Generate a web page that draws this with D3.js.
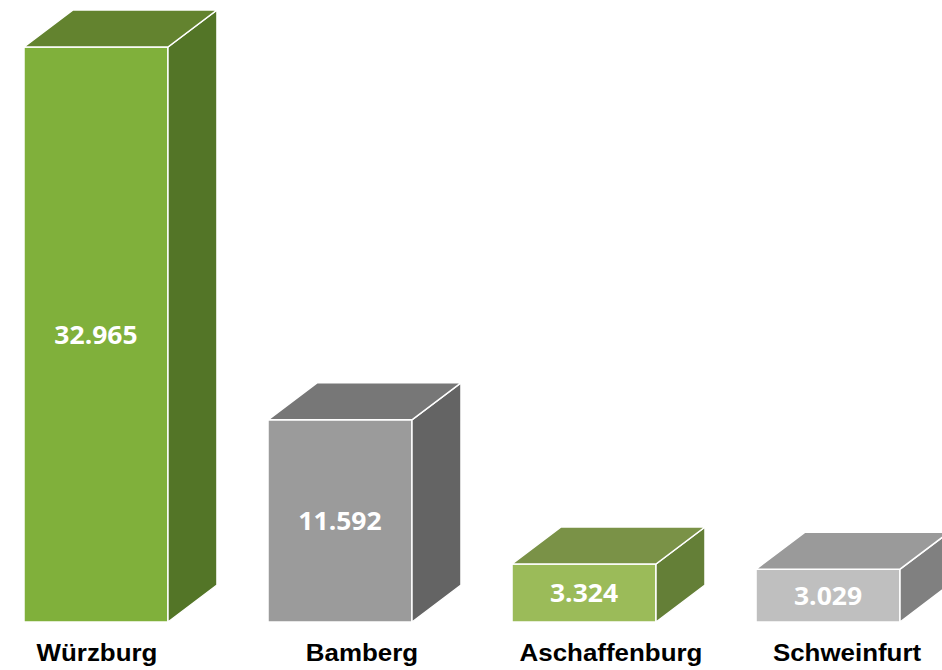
<!DOCTYPE html>
<html><head><meta charset="utf-8">
<script src="https://cdn.jsdelivr.net/npm/d3@7"></script>
<style>html,body{margin:0;padding:0;background:#fff;}svg{display:block;}</style>
</head><body>
<svg id="c" width="942" height="670"></svg>
<script>
const categories = ["Würzburg", "Bamberg", "Aschaffenburg", "Schweinfurt"];
const values = [32.965, 11.592, 3.324, 3.029];
const valueLabels = ["32.965", "11.592", "3.324", "3.029"];
const frontColors = ["#80b03b", "#9b9b9b", "#9bbb59", "#bfbfbf"];
const sideColors = ["#537527", "#646464", "#647f37", "#808080"];
const topColors = ["#63832f", "#777777", "#7a9247", "#9a9a9a"];
const labelShift = [1, 22, 27, 19];

const svg = d3.select("#c");
const x = d3.scaleBand().domain(categories).range([24, 900]).paddingInner(0.41).paddingOuter(0);
const y = d3.scaleLinear().domain([0, d3.max(values)]).range([622, 47]);
const dx = 49, dy = 37;

const g = svg.selectAll("g.bar").data(categories).join("g").attr("class", "bar");
g.each(function(c, i) {
  const el = d3.select(this);
  const x0 = x(c), x1 = x(c) + x.bandwidth(), yt = y(values[i]), yb = y(0);
  const line = d3.line();
  el.append("path").attr("d", line([[x0, yb], [x1, yb], [x1, yt], [x0, yt]]) + "Z")
    .attr("fill", frontColors[i]).attr("stroke", "#fff").attr("stroke-width", 1.5);
  el.append("path").attr("d", line([[x1, yb], [x1 + dx, yb - dy], [x1 + dx, yt - dy], [x1, yt]]) + "Z")
    .attr("fill", sideColors[i]).attr("stroke", "#fff").attr("stroke-width", 1.5);
  el.append("path").attr("d", line([[x0, yt], [x1, yt], [x1 + dx, yt - dy], [x0 + dx, yt - dy]]) + "Z")
    .attr("fill", topColors[i]).attr("stroke", "#fff").attr("stroke-width", 1.5);
  const cx = x0 + x.bandwidth() / 2, cy = (yt + yb) / 2;
  el.append("text").attr("transform", `translate(${cx},${cy + 9}) scale(1.06,1)`)
    .attr("text-anchor", "middle").attr("font-family", "'Open Sans', sans-serif")
    .attr("font-weight", 700).attr("font-size", 25).attr("fill", "#fff").text(valueLabels[i]);
  el.append("text").attr("transform", `translate(${cx + labelShift[i]},${661}) scale(1.08,1)`)
    .attr("text-anchor", "middle").attr("font-family", "'Liberation Sans', Arial, sans-serif")
    .attr("font-weight", 700).attr("font-size", 24).attr("fill", "#000").text(c);
});
</script>
</body></html>
